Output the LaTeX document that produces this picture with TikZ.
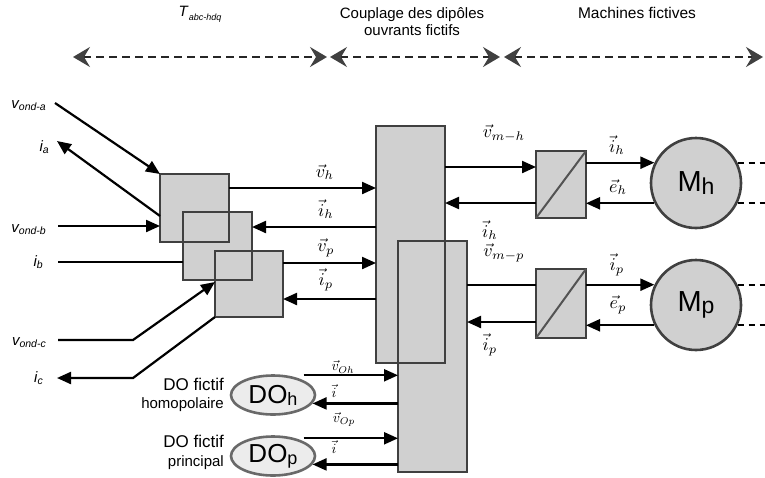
\documentclass[tikz,border=0pt]{standalone}
\usepackage{fontspec}
\setmainfont{Liberation Sans}
\usepackage{amsmath}
\usetikzlibrary{arrows.meta,calc,shapes.geometric}
\definecolor{edgegray}{RGB}{64,64,64}
\definecolor{boxfill}{RGB}{208,208,208}
\definecolor{dofill}{RGB}{236,236,236}
\definecolor{dogray}{RGB}{105,105,105}
\newcommand{\itsub}[2]{{\fontsize{15}{15}\selectfont\itshape #1}\raisebox{-0.45ex}{\fontsize{10.5}{10.5}\selectfont\itshape #2}}
\newcommand{\bigsub}[4]{{\fontsize{#3}{#3}\selectfont #1}\raisebox{-0.4ex}{\fontsize{#4}{#4}\selectfont #2}}
\newcommand{\vlab}[1]{\scalebox{1.8}{$#1$}}
\newcommand{\vsml}[1]{\scalebox{1.4}{$#1$}}

\begin{document}
\begin{tikzpicture}[x=1pt,y=-1pt,
  blk/.style={fill=boxfill,inner sep=0pt,outer sep=0pt},
  edge/.style={draw=edgegray,line width=2.6pt},
  sig/.style={line width=2.2pt},
  tail/.style={line width=2pt,dash pattern=on 6pt off 5pt},
  mlab/.style={inner sep=0pt},
  inlab/.style={anchor=base east,inner sep=0pt},
  dotxt/.style={anchor=base east,inner sep=0pt},
  span/.style={draw=black!85,line width=1.8pt,dash pattern=on 8pt off 5pt,
    {Stealth[length=17pt,width=20pt,inset=6pt,color=edgegray]}-{Stealth[length=17pt,width=20pt,inset=6pt,color=edgegray]}},
  >={Triangle[length=14pt,width=12pt]}]
\useasboundingbox (0,0) rectangle (765,477);

% titles
\node[font=\fontsize{15}{15}\selectfont] (ttabc) at (200,14) {\textit{T}\raisebox{-0.45ex}{\fontsize{9}{9}\selectfont\itshape abc-hdq}};
\node[font=\fontsize{15}{17}\selectfont,align=center] (ttcpl) at (412,22) {Couplage des dipôles\\ouvrants fictifs};
\node[font=\fontsize{15.5}{15.5}\selectfont] (ttmac) at (637,13) {Machines fictives};

\coordinate (s0) at (73,57);
\coordinate (s1) at (327,57);
\coordinate (s2) at (330,57);
\coordinate (s3) at (500,57);
\coordinate (s4) at (504,57);
\coordinate (s5) at (763,57);
\draw[span] (s0) -- (s1);
\draw[span] (s2) -- (s3);
\draw[span] (s4) -- (s5);

% transformation blocks and coupling blocks
\node[blk,minimum width=69pt,minimum height=68pt] (tA) at (194.5,208) {};
\node[blk,minimum width=69pt,minimum height=68pt] (tB) at (217.5,246) {};
\node[blk,minimum width=68pt,minimum height=66pt] (tC) at (249,284) {};
\node[blk,minimum width=69pt,minimum height=237pt] (cpl1) at (410.5,244.5) {};
\node[blk,minimum width=69pt,minimum height=231pt] (cpl2) at (432.5,356.5) {};
\foreach \n in {tA,tB,tC,cpl1,cpl2}
  \draw[edge] (\n.south west) rectangle (\n.north east);

% converters and machines
\node[blk,edge,minimum width=50pt,minimum height=67pt] (cvh) at (561,184.5) {};
\node[blk,edge,minimum width=50pt,minimum height=69pt] (cvp) at (561,303.5) {};
\draw[draw=edgegray!90,line width=2pt] (cvh.south west) -- (cvh.north east);
\draw[draw=edgegray!90,line width=2pt] (cvp.south west) -- (cvp.north east);
\node[circle,fill=boxfill,edge,minimum size=90pt,inner sep=0pt] (mh) at (696,183) {\bigsub{M}{h}{29}{23}};
\node[circle,fill=boxfill,edge,minimum size=90pt,inner sep=0pt] (mp) at (696,305) {\bigsub{M}{p}{29}{23}};

% fictive dipoles
\node[ellipse,fill=dofill,draw=dogray,line width=2.6pt,minimum width=84pt,minimum height=39pt,inner sep=0pt] (doh) at (273,395) {\bigsub{DO}{h}{26}{18}};
\node[ellipse,fill=dofill,draw=dogray,line width=2.6pt,minimum width=84pt,minimum height=39pt,inner sep=0pt] (dop) at (273,456) {\bigsub{DO}{p}{26}{18}};
\node[dotxt,font=\fontsize{17}{17}\selectfont] (dohA) at (224,390) {DO fictif};
\node[dotxt,font=\fontsize{15}{15}\selectfont] (dohB) at (224,408) {homopolaire};
\node[dotxt,font=\fontsize{17}{17}\selectfont] (dopA) at (224,447) {DO fictif};
\node[dotxt,font=\fontsize{15}{15}\selectfont] (dopB) at (224,466) {principal};

% inverter side
\coordinate (pva) at (55,103);
\coordinate (pia) at (57,141);
\coordinate (pvb) at (58,226);
\coordinate (pib) at (58,262);
\coordinate (pvc) at (58,340);
\coordinate (pic) at (57,378);
\node[inlab] (lva) at (46,108) {\itsub{v}{ond-a}};
\node[inlab] (lia) at (49,151) {\itsub{i}{a}};
\node[inlab] (lvb) at (46,232) {\itsub{v}{ond-b}};
\node[inlab] (lib) at (43,266) {\itsub{i}{b}};
\node[inlab] (lvc) at (46,345) {\itsub{v}{ond-c}};
\node[inlab] (lic) at (43,382) {\itsub{i}{c}};
\draw[sig,->] (pva) -- (tA.north west);
\draw[sig,->] (tA.west |- 0,216) -- (pia);
\draw[sig,->] (pvb) -- (pvb -| tA.west);
\draw[sig] (pib) -- (pib -| tB.west);
\draw[sig,->] (pvc) -- ++(75,0) -- (tC.west |- 0,282);
\draw[sig,->] (tC.south west) -- ++(-82,61) -- (pic);

% towards coupling
\draw[sig,->] (tA.east |- 0,188) -- (cpl1.west |- 0,188);
\draw[sig,->] (cpl1.west |- 0,227) -- (tB.east |- 0,227);
\draw[sig,->] (tC.east |- 0,263) -- (cpl1.west |- 0,263);
\draw[sig,->] (cpl1.west |- 0,299) -- (tC.east |- 0,299);
\node[mlab] (lvh) at (325,172) {\vlab{\vec{v}_{h}}};
\node[mlab] (lih) at (326,209) {\vlab{\vec{i}_{h}}};
\node[mlab] (lvp) at (326,248) {\vlab{\vec{v}_{p}}};
\node[mlab] (lip) at (326,280) {\vlab{\vec{i}_{p}}};

% dipoles to coupling
\path ([yshift=5pt]doh.north east) coordinate (vohs)
      ([yshift=3pt]dop.north east) coordinate (vops);
\draw[sig,->] (vohs) -- (vohs -| cpl2.west);
\draw[sig,<-] (doh.-12) -- (doh.-12 -| cpl2.west);
\draw[sig,->] (vops) -- (vops -| cpl2.west);
\draw[sig,<-] (dop.-12) -- (dop.-12 -| cpl2.west);
\node[mlab] (lvoh) at (343,367) {\vsml{\vec{v}_{Oh}}};
\node[mlab] (lioh) at (334,391) {\vsml{\vec{i}}};
\node[mlab] (lvop) at (344,419) {\vsml{\vec{v}_{Op}}};
\node[mlab] (liop) at (334,447) {\vsml{\vec{i}}};

% coupling to machines
\draw[sig,->] (cpl1.east |- 0,167) -- (cvh.west |- 0,167);
\draw[sig,->] (cvh.west |- 0,203) -- (cpl1.east |- 0,203);
\draw[sig,->] (cvh.east |- mh.154) -- (mh.154);
\draw[sig,->] (mh.206) -- (cvh.east |- mh.206);
\draw[sig] (cpl2.east |- 0,285) -- (cvp.west |- 0,285);
\draw[sig,->] (cvp.west |- 0,322) -- (cpl2.east |- 0,322);
\draw[sig,->] (cvp.east |- mp.154) -- (mp.154);
\draw[sig,->] (mp.206) -- (cvp.east |- mp.206);
\node[mlab] (lvmh) at (504,133) {\vlab{\vec{v}_{m-h}}};
\node[mlab] (lihb) at (490,230) {\vlab{\vec{i}_{h}}};
\node[mlab] (lihm) at (617,145) {\vlab{\vec{i}_{h}}};
\node[mlab] (lehm) at (618,187) {\vlab{\vec{e}_{h}}};
\node[mlab] (lvmp) at (504,253) {\vlab{\vec{v}_{m-p}}};
\node[mlab] (lipb) at (490,345) {\vlab{\vec{i}_{p}}};
\node[mlab] (lipm) at (617,265) {\vlab{\vec{i}_{p}}};
\node[mlab] (lepm) at (618,305) {\vlab{\vec{e}_{p}}};

\coordinate (rim) at (765,0);
\foreach \m in {mh,mp} {
  \draw[tail] (\m.26) -- (\m.26 -| rim);
  \draw[tail] (\m.-26) -- (\m.-26 -| rim);
}
\end{tikzpicture}
\end{document}
